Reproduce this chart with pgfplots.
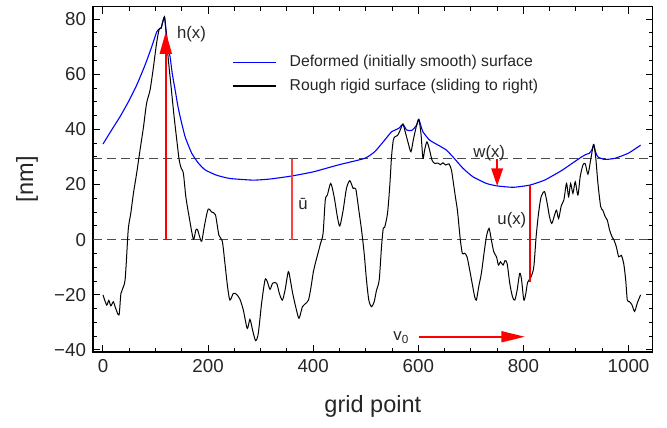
\documentclass[border=0pt]{standalone}
\usepackage{fontspec}
\setmainfont{Liberation Sans}
\usepackage{pgfplots}
\pgfplotsset{compat=1.18}
\usetikzlibrary{arrows.meta}

\begin{document}
\begin{tikzpicture}
\begin{axis}[
    scale only axis,
    width=279.85bp, height=172.6bp,
    xmin=-19, xmax=1046, ymin=-40.7, ymax=84.5,
    xtick={0,200,...,1000}, xticklabels={0,200,400,600,800,1000},
    ytick={-40,-20,...,80}, yticklabels={−40,−20,0,20,40,60,80},
    minor x tick num=3, minor y tick num=3,
    tick align=inside, major tick length=3.6bp, minor tick length=2bp,
    tick style={black, line width=0.5bp},
    axis line style={line width=0.6bp},
    ticklabel style={font=\fontsize{9.4}{11}\selectfont, text=black!85},
    /pgf/number format/assume math mode=true,
    xlabel={grid point}, ylabel={[nm]},
    label style={font=\fontsize{11.8}{14}\selectfont, text=black!85},
    xlabel style={at={(axis description cs:0.5,-0.159)}, anchor=center},
    ylabel style={at={(axis description cs:-0.118,0.5)}, anchor=center},
    legend style={draw=none, fill=none, inner sep=0pt,
        at={(axis description cs:0.248,0.804)}, anchor=west,
        font=\fontsize{7.9}{9.5}\selectfont, text=black!85,
        nodes={inner sep=0pt}, row sep=4.6bp,
        /tikz/every odd column/.append style={column sep=6.5bp}},
    legend cell align=left,
    legend image code/.code={\draw[#1, line width=0.75bp] (0bp,0bp) -- (21.5bp,0bp);},
]
% reference levels
\addplot[black!70, line width=0.55bp, dash pattern=on 4.5bp off 2.5bp, forget plot] coordinates {(-19,0) (1046,0)};
\addplot[black!70, line width=0.55bp, dash pattern=on 4.5bp off 2.5bp, forget plot] coordinates {(-19,29.3) (1046,29.3)};

% deformed surface
\addplot[blue, line width=0.55bp, smooth, tension=0.3] coordinates {
(0,34.7) (16.5,39.8) (32.4,44.6) (48.3,50) (64.2,56.1) (80,63.3) (92.8,70) (102.3,75.4)
(107,76.4) (110.6,76.7) (113,78.5) (117,80.8) (120,76) (123,71) (127.7,66.3) (132,60)
(137.3,54.3) (142,49) (146.8,44.6) (156.3,37.3) (169,31.3) (181.8,27.7) (194.5,25.3)
(216,23.4) (241.5,22.2) (286,21.6) (317.8,22) (359,23.1) (400,24.6) (447.5,27.1)
(498,29.5) (517,31.9) (533.3,35.5) (549,39.1) (563,40.4) (570.7,41.9) (577.7,39.8)
(587.2,39.6) (596.8,41.5) (601,43.6) (606.3,40.4) (608.8,39.1) (621.5,36.1) (640.6,34)
(653.4,32.5) (666,30) (685,25.9) (704,22.8) (729.6,20.4) (750,19.5) (780.4,19)
(812.2,19.8) (840.2,21.6) (872,25) (897.4,28.3) (916.5,30.7) (925,31.3) (930,32.5)
(934,34.4) (937,32) (941.8,30) (954.6,29.1) (973.7,29.5) (999,31.3) (1021,34) (1023,34.3)
};
\addlegendentry{Deformed (initially smooth) surface}

% rough rigid surface
\addplot[black, line width=0.5bp, smooth, tension=0.45] coordinates {
(0,-20) (7,-23.7) (11,-22) (15,-24) (19.7,-22.5) (24,-24.8) (30.5,-27.3) (34.3,-19.4)
(42,-14.6) (48,3.5) (53,9.7) (58,16.9) (64,24) (70.5,32.5) (77,40.8) (83,49.5)
(89.6,54.3) (96,62.6) (102,71.3) (107,76.4) (110.6,76.7) (113,78.5) (117,80.8)
(119.6,76) (124.5,65) (129.6,55.4) (135.4,44.5) (140.5,36) (145,28.9) (148.7,26)
(153,24) (157.7,15.5) (164,8.2) (172,0.2) (176.7,3.5) (180,3.6) (184,1) (188,-0.5)
(193,5) (200,11) (207,10) (214,9) (220.6,1.6) (227,-0.5) (232,-8.5) (237,-17)
(241.5,-21.9) (248,-19.5) (254,-19.8) (260.6,-21.6) (267,-25.5) (274.5,-32.2)
(279.6,-28.9) (284.7,-32.8) (290.4,-36.6) (295.5,-34) (301.8,-23.1) (308.3,-14.6)
(312.6,-15.2) (317.8,-18) (322.8,-15.8) (330.4,-15.8) (335.6,-19.5) (341.3,-21.9)
(346.4,-18.3) (352.7,-11.6) (357,-15.2) (361,-19.5) (367.4,-24.9) (373,-28.5)
(379.4,-24.3) (384.5,-23.3) (391,-21.9) (396,-17) (400,-12) (404,-8.6) (409,-5)
(414,-1.3) (418.8,2.3) (423,14.4) (427,16.2) (433.4,20.4) (439.8,15.6) (446,8.3)
(450.6,5) (457,10.7) (463.3,18.6) (469.6,21.4) (476,18.6) (481,18.4) (486.8,10.7)
(492,3.5) (497,-5) (501.4,-14.6) (505.8,-21.9) (511,-24.3) (516,-22.5) (520.5,-18.3)
(525.6,-14.6) (530,-2.5) (533.3,4.1) (536,4.5) (541.5,9.7) (546,20.4) (549,30)
(552.3,36) (555.4,37.3) (560.5,37.8) (565.7,39.8) (570.7,41.9) (575.8,38.6) (581,34.9)
(586,31.9) (590.4,36.1) (596.8,41.6) (601,43.6) (605,38.6) (608.8,29.5) (612,32.5)
(616.4,35.5) (621.5,32.5) (626,28.9) (631,27.7) (637.4,27.8) (642,27.2) (647,27.9)
(652,27.1) (658.4,27.5) (663,25.3) (666,21.6) (670.5,15.6) (674.4,10.7) (677.5,4.7)
(680,-0.1) (683.8,-5) (688.3,-4.9) (692.7,-6.2) (697.8,-11) (703,-16.4) (707.3,-20.7)
(710.5,-21.9) (715,-17) (720,-12.2) (725,-5) (729.6,1.1) (734.6,4.1) (739,-0.1)
(743.6,-4.4) (748.7,-6.2) (752.5,-9.2) (756.3,-8) (761.3,-9.2) (765,-7.6) (769,-8.6)
(774,-15.8) (779.2,-20.7) (783.6,-21.9) (788,-18.3) (793,-12.2) (796.5,-14.6)
(800.8,-21.9) (804.6,-19.5) (808,-15.5) (814.7,-13.4) (819.8,-9.8) (824.2,1.1)
(828.8,9.6) (833.7,15.6) (840.2,17.4) (845.2,13.2) (849.7,8.3) (854,5.9) (859.2,8.9)
(863,10.7) (867,7.7) (871.9,12.2) (877,14.4) (882,20.4) (886,15.6) (889.8,20.4)
(894.2,16.8) (898.6,21) (903.7,16.2) (908,22.8) (913.3,27.1) (917.7,27.5) (922.8,23.8)
(927.9,28.9) (932.3,33.7) (934,34.4) (937.5,30) (941.8,20.4) (947,12) (951,10.7)
(955.8,8.3) (959.6,7.1) (964,3.5) (968.5,1.1) (972.3,-0.1) (976.7,-2.5) (981.3,-6.2)
(986.3,-5.7) (990.8,-8.6) (994.6,-14.6) (997.7,-21.9) (1002,-22.5) (1006.7,-23.7)
(1011.5,-26) (1017,-22.8) (1023,-20)
};
\addlegendentry{Rough rigid surface (sliding to right)}

% annotations
\addplot[red, line width=0.8bp, -{Triangle[width=6bp,length=11bp]}, forget plot] coordinates {(119.5,0) (119.5,75.4)};
\addplot[red!75, line width=0.8bp, forget plot] coordinates {(360,0) (360,29.3)};
\addplot[red, line width=0.8bp, -{Triangle[width=5.8bp,length=8.8bp]}, forget plot] coordinates {(750,29.3) (750,19.5)};
\addplot[red, line width=1bp, forget plot] coordinates {(812.5,-15.4) (812.5,19.8)};
\addplot[red, line width=0.8bp, -{Triangle[width=5.5bp,length=11.7bp]}, forget plot] coordinates {(601,-35.2) (802.7,-35.2)};

\node[anchor=west, inner sep=0pt, font=\fontsize{8.4}{10}\selectfont, text=black!85] at (axis cs:140.3,74.5) {h(x)};
\node[anchor=west, inner sep=0pt, font=\fontsize{8.4}{10}\selectfont, text=black!85] at (axis cs:371,13) {ū};
\node[inner sep=0pt, font=\fontsize{8.4}{10}\selectfont, text=black!85] at (axis cs:735,31.5) {w(x)};
\node[inner sep=0pt, font=\fontsize{8.4}{10}\selectfont, text=black!85] at (axis cs:778,7) {u(x)};
\node[anchor=west, inner sep=0pt, font=\fontsize{8.4}{10}\selectfont, text=black!85] at (axis cs:552,-35.5) {v\textsubscript{0}};
\end{axis}
\pgfresetboundingbox
\path ([shift={(-46.5bp,-38bp)}]current axis.south west) rectangle ([shift={(7.15bp,3.35bp)}]current axis.north east);
\end{tikzpicture}
\end{document}
